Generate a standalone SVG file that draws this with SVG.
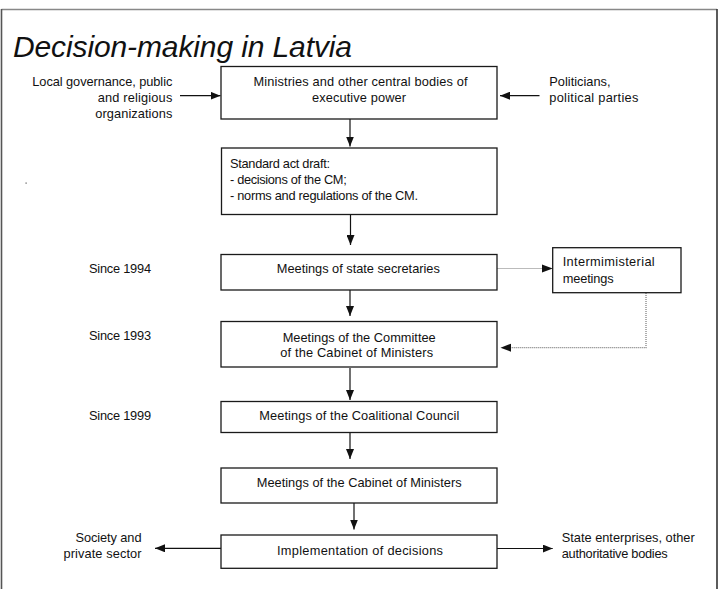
<svg xmlns="http://www.w3.org/2000/svg" width="722" height="589" viewBox="0 0 722 589">
<style>
  .box { fill: #fff; stroke: #1a1a1a; stroke-width: 1.3; }
  .t { font-family: "Liberation Sans", Arial, sans-serif; font-size: 12.8px; fill: #111; }
  .c { text-anchor: middle; }
  .e { text-anchor: end; }
  .ln { stroke: #111; stroke-width: 1.2; fill: none; }
  .dot { stroke: #777; stroke-width: 1.2; stroke-dasharray: 1 1; fill: none; }
  .title { font-family: "Liberation Sans", Arial, sans-serif; font-style: italic; font-size: 30px; fill: #111; }
</style>
<defs>
  <marker id="ah" viewBox="0 0 10 8" refX="10" refY="4" markerWidth="10" markerHeight="8" markerUnits="userSpaceOnUse" orient="auto">
    <path d="M0,0 L10,4 L0,8 Z" fill="#111"/>
  </marker>
</defs>
<rect width="722" height="589" fill="#fff"/>
<g id="frame">
  <line x1="1.5" y1="9.5" x2="717" y2="9.5" stroke="#888" stroke-width="1.6"/>
  <line x1="1.5" y1="9" x2="1.5" y2="589" stroke="#555" stroke-width="1.6"/>
  <line x1="717" y1="9" x2="717" y2="589" stroke="#333" stroke-width="1.6"/>
  <rect x="25.5" y="182.5" width="1.2" height="1.2" fill="#555"/>
</g>
<text class="title" x="13" y="57" textLength="339">Decision-making in Latvia</text>

<g id="connectors">
  <line class="ln" x1="180" y1="95.7" x2="220.5" y2="95.7" marker-end="url(#ah)"/>
  <line class="ln" x1="539.5" y1="95.7" x2="500" y2="95.7" marker-end="url(#ah)"/>
  <line class="ln" x1="350" y1="119" x2="350" y2="146.5" marker-end="url(#ah)"/>
  <line class="ln" x1="350.5" y1="214.5" x2="350.5" y2="245" marker-end="url(#ah)"/>
  <line class="ln" x1="350" y1="290" x2="350" y2="316" marker-end="url(#ah)"/>
  <line class="ln" x1="350" y1="368" x2="350" y2="400" marker-end="url(#ah)"/>
  <line class="ln" x1="350" y1="432.5" x2="350" y2="459" marker-end="url(#ah)"/>
  <line class="ln" x1="354" y1="503" x2="354" y2="529.5" marker-end="url(#ah)"/>
  <line class="ln" x1="221" y1="548.3" x2="155" y2="548.3" marker-end="url(#ah)"/>
  <line class="ln" x1="497" y1="548.5" x2="552.7" y2="548.5" marker-end="url(#ah)"/>
  <line class="dot" x1="497.5" y1="268.5" x2="544" y2="268.5"/>
  <path d="M542,264.5 L552.7,268.5 L542,272.5 Z" fill="#111"/>
  <polyline class="dot" points="646,293 646,347.7 510,347.7"/>
  <path d="M511,343.7 L500.5,347.7 L511,351.7 Z" fill="#111"/>
</g>

<g id="n-local">
  <text class="t e" x="172.3" y="86" textLength="140">Local governance, public</text>
  <text class="t e" x="172.3" y="102" textLength="74.6">and religious</text>
  <text class="t e" x="172.3" y="118" textLength="77">organizations</text>
</g>
<g id="n-politicians">
  <text class="t" x="549.3" y="86">Politicians,</text>
  <text class="t" x="549.3" y="102" textLength="89">political parties</text>
</g>
<g id="n-ministries">
  <rect class="box" x="221" y="66.5" width="276" height="52.5"/>
  <text class="t c" x="360.5" y="86" textLength="214">Ministries and other central bodies of</text>
  <text class="t c" x="359" y="102" textLength="94">executive power</text>
</g>
<g id="n-draft">
  <rect class="box" x="221.5" y="148" width="275.5" height="66.5"/>
  <text class="t" x="230" y="168" textLength="100">Standard act draft:</text>
  <text class="t" x="230" y="184" textLength="116.7">- decisions of the CM;</text>
  <text class="t" x="230" y="200" textLength="188">- norms and regulations of the CM.</text>
</g>
<g id="n-secretaries">
  <rect class="box" x="221" y="254.5" width="276" height="35.5"/>
  <text class="t c" x="358.3" y="273" textLength="163">Meetings of state secretaries</text>
</g>
<g id="n-intermin">
  <rect class="box" x="552.7" y="247.7" width="128.3" height="45"/>
  <text class="t" x="562.7" y="266" textLength="92">Intermimisterial</text>
  <text class="t" x="562.7" y="283" textLength="51">meetings</text>
</g>
<g id="n-committee">
  <rect class="box" x="221" y="321.5" width="276" height="45.5"/>
  <text class="t c" x="359.2" y="341.5" textLength="153">Meetings of the Committee</text>
  <text class="t c" x="356.7" y="357" textLength="153">of the Cabinet of Ministers</text>
</g>
<g id="n-coalition">
  <rect class="box" x="221" y="401.5" width="276" height="31"/>
  <text class="t c" x="359.3" y="420" textLength="200">Meetings of the Coalitional Council</text>
</g>
<g id="n-cabinet">
  <rect class="box" x="221" y="468" width="276" height="35"/>
  <text class="t c" x="359.2" y="487" textLength="205">Meetings of the Cabinet of Ministers</text>
</g>
<g id="n-implementation">
  <rect class="box" x="221" y="535" width="276" height="33.3"/>
  <text class="t c" x="360" y="555" textLength="166">Implementation of decisions</text>
</g>
<g id="n-society">
  <text class="t e" x="141.5" y="541.7" textLength="66">Society and</text>
  <text class="t e" x="141.5" y="558" textLength="78">private sector</text>
</g>
<g id="n-state">
  <text class="t" x="561.7" y="541.7" textLength="133">State enterprises, other</text>
  <text class="t" x="561.7" y="557.5" textLength="106">authoritative bodies</text>
</g>
<g id="n-since">
  <text class="t" x="89" y="273" textLength="62">Since 1994</text>
  <text class="t" x="89" y="340" textLength="62">Since 1993</text>
  <text class="t" x="89" y="420" textLength="62">Since 1999</text>
</g>
</svg>
